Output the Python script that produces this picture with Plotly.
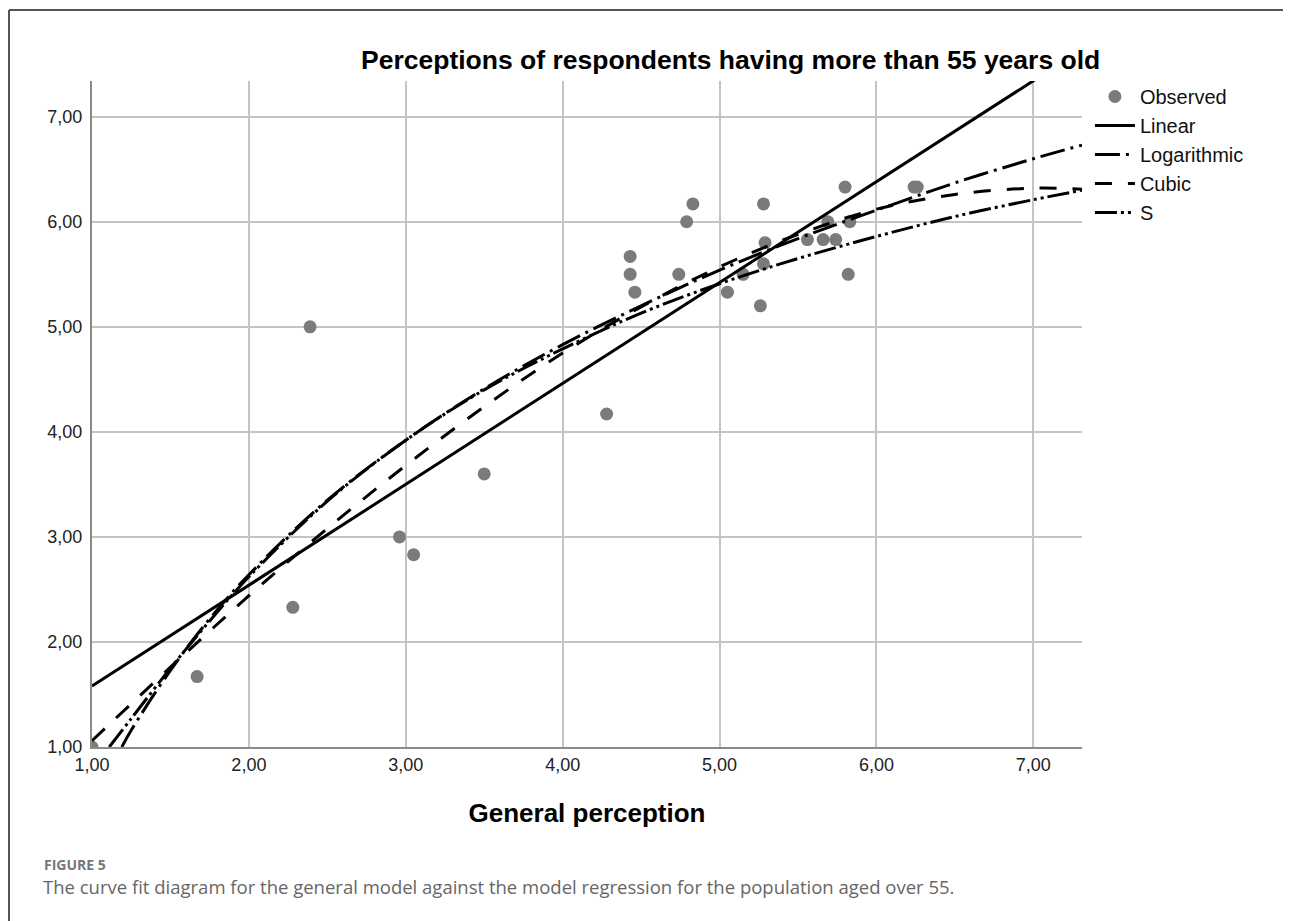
import plotly.graph_objects as go

# Observed data
obs_x = [1.00, 1.67, 2.28, 2.39, 2.96, 3.05, 3.50, 4.28, 4.43, 4.43, 4.46, 4.74, 4.79, 4.83,
         5.05, 5.15, 5.26, 5.28, 5.29, 5.28, 5.56, 5.66, 5.74, 5.69, 5.83, 5.80, 5.82, 6.24, 6.26]
obs_y = [1.00, 1.67, 2.33, 5.00, 3.00, 2.83, 3.60, 4.17, 5.67, 5.50, 5.33, 5.50, 6.00, 6.17,
         5.33, 5.50, 5.20, 6.17, 5.80, 5.60, 5.83, 5.83, 5.83, 6.00, 6.00, 6.33, 5.50, 6.33, 6.33]

# Fitted curves
lin_x = [1.00, 7.31]
lin_y = [1.58, 7.64]

log_x = [1.19, 1.25, 1.5, 1.75, 2.0, 2.5, 3.0, 3.5, 4.0, 4.5, 5.0, 5.5, 6.0, 6.5, 7.0, 7.31]
log_y = [1.00, 1.16, 1.73, 2.22, 2.64, 3.35, 3.92, 4.41, 4.83, 5.20, 5.54, 5.84, 6.11, 6.37, 6.60, 6.73]

cub_x = [1.0, 1.5, 2.0, 2.5, 3.0, 3.5, 4.0, 4.5, 5.0, 5.5, 6.0, 6.5, 7.0, 7.31]
cub_y = [1.06, 1.76, 2.44, 3.08, 3.68, 4.24, 4.75, 5.19, 5.57, 5.88, 6.12, 6.26, 6.32, 6.31]

s_x = [1.11, 1.25, 1.5, 1.75, 2.0, 2.5, 3.0, 3.5, 4.0, 4.5, 5.0, 5.5, 6.0, 6.5, 7.0, 7.31]
s_y = [1.00, 1.27, 1.75, 2.20, 2.62, 3.34, 3.92, 4.40, 4.79, 5.13, 5.41, 5.65, 5.86, 6.05, 6.21, 6.30]

tick_vals = [1, 2, 3, 4, 5, 6, 7]

FONT = "Liberation Sans, Arial, sans-serif"
CAP_FONT = "Open Sans, Noto Sans, sans-serif"

fig = go.Figure()
fig.add_trace(go.Scatter(x=obs_x, y=obs_y, mode="markers", name="Observed",
                         marker=dict(color="#7b7b7b", size=13)))
fig.add_trace(go.Scatter(x=lin_x, y=lin_y, mode="lines", name="Linear",
                         line=dict(color="black", width=3)))
fig.add_trace(go.Scatter(x=log_x, y=log_y, mode="lines", name="Logarithmic", line_shape="spline",
                         line=dict(color="black", width=3, dash="25px,6px,3px,6px")))
fig.add_trace(go.Scatter(x=cub_x, y=cub_y, mode="lines", name="Cubic", line_shape="spline",
                         line=dict(color="black", width=3, dash="17px,16px")))
fig.add_trace(go.Scatter(x=s_x, y=s_y, mode="lines", name="S", line_shape="spline",
                         line=dict(color="black", width=3, dash="22px,4px,3px,4px,3px,4px")))

fig.update_layout(
    width=1283, height=913,
    margin=dict(l=84, r=209, t=73, b=174),
    paper_bgcolor="white", plot_bgcolor="white",
    separators=", ",
    font=dict(family=FONT, color="#222222"),
    showlegend=True,
    legend=dict(x=1.008, y=1.006, xanchor="left", yanchor="top",
                font=dict(size=20, family=FONT, color="#111111"),
                bgcolor="rgba(0,0,0,0)", itemwidth=40, tracegroupgap=0),
    xaxis=dict(range=[1, 7.31], tickvals=tick_vals, tickformat=".2f",
               showgrid=True, gridcolor="#c4c4c4", gridwidth=2,
               showline=True, linecolor="#8a8a8a", linewidth=2,
               zeroline=False, ticks="", tickfont=dict(size=18, family=FONT),
               title=dict(text="<b>General perception</b>", font=dict(size=26, family=FONT, color="black"),
                          standoff=30)),
    yaxis=dict(range=[1, 7.34], tickvals=tick_vals, tickformat=".2f",
               showgrid=True, gridcolor="#c4c4c4", gridwidth=2,
               showline=True, linecolor="#8a8a8a", linewidth=2,
               zeroline=False, ticks="", tickfont=dict(size=18, family=FONT),
               ticklabelstandoff=4),
)

fig.add_annotation(text="<b>Perceptions of respondents having more than 55 years old</b>",
                   xref="paper", yref="paper", x=0.645, y=1.032, xanchor="center", yanchor="middle",
                   showarrow=False, font=dict(size=26.5, family=FONT, color="black"))

fig.add_annotation(text="<b>FIGURE 5</b>", xref="paper", yref="paper",
                   x=(42 - 92) / 990, y=(747 - 864) / 666, xanchor="left", yanchor="middle", showarrow=False,
                   font=dict(size=14, family=CAP_FONT, color="#777777"))
fig.add_annotation(text="The curve fit diagram for the general model against the model regression for the population aged over 55.",
                   xref="paper", yref="paper",
                   x=(41 - 92) / 990, y=(747 - 886) / 666, xanchor="left", yanchor="middle", showarrow=False,
                   font=dict(size=18.5, family=CAP_FONT, color="#666666"))

# figure frame
fig.add_shape(type="line", xref="paper", yref="paper",
              x0=(9 - 92) / 990, x1=(1300 - 92) / 990, y0=(747 - 10) / 666, y1=(747 - 10) / 666,
              line=dict(color="#555555", width=2))
fig.add_shape(type="line", xref="paper", yref="paper",
              x0=(9 - 92) / 990, x1=(9 - 92) / 990, y0=(747 - 10) / 666, y1=(747 - 930) / 666,
              line=dict(color="#555555", width=2))

fig.write_html("out.html")
